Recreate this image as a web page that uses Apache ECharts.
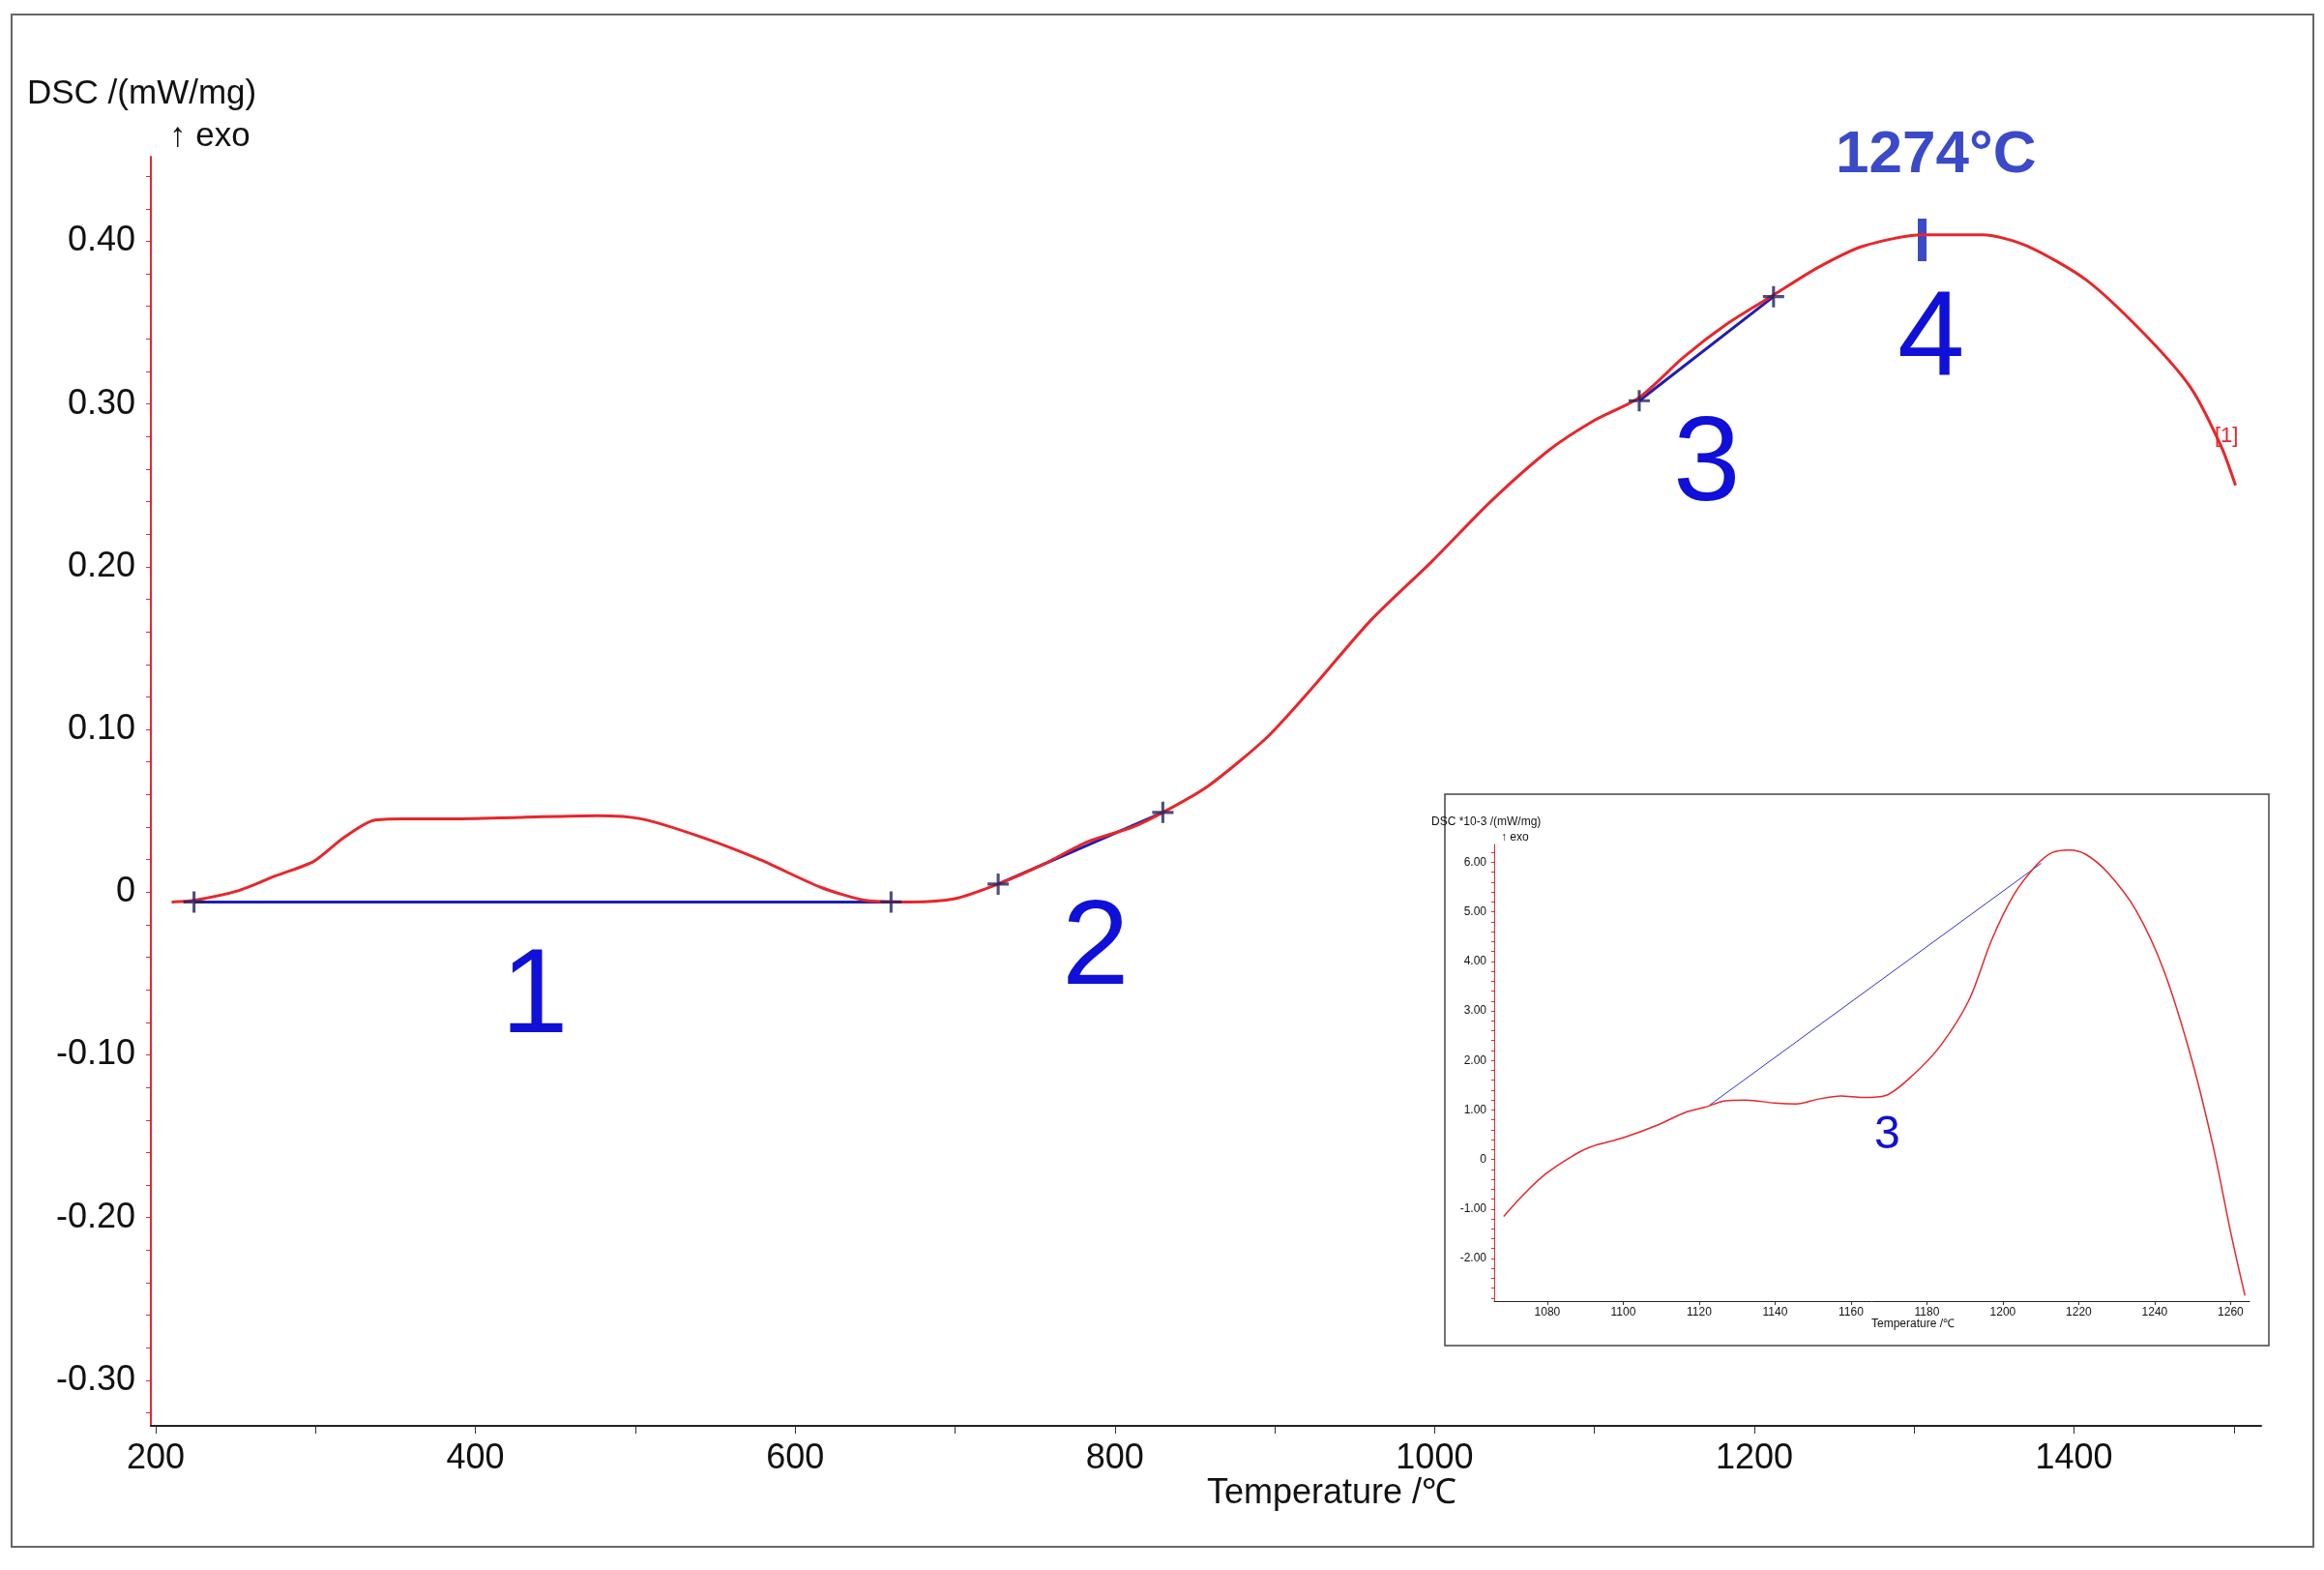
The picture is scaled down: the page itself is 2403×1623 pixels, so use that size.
<!DOCTYPE html>
<html>
<head>
<meta charset="utf-8">
<script src="https://cdn.jsdelivr.net/npm/echarts@6/dist/echarts.min.js"></script>
<style>html,body{margin:0;padding:0;background:#fff}#main{width:2403px;height:1623px}</style>
</head>
<body>
<div id="main"></div>
<script>
// main DSC curve
var temp = [210,224,252,275,299,317,336,355,383,429,476,504,541,578,616,644,672,700,727,755,783,811,830,858,895,923,960,998,1035,1072,1100,1128,1156,1184,1212,1240,1268,1305,1343,1371,1408,1445,1473,1492,1501];
var dsc = [-0.006,-0.005,0.001,0.010,0.019,0.033,0.044,0.045,0.045,0.046,0.047,0.045,0.034,0.020,0.003,-0.005,-0.006,-0.004,0.005,0.017,0.031,0.040,0.049,0.065,0.095,0.125,0.167,0.203,0.240,0.272,0.290,0.304,0.329,0.350,0.367,0.384,0.397,0.404,0.404,0.397,0.376,0.342,0.310,0.274,0.250];
// baselines / tangents
var base1 = [[224,-0.006],[660,-0.006]];
var base2 = [[727,0.005],[830,0.049]];
var base3 = [[1128,0.302],[1212,0.366]];
var crosses = [[224,-0.006],[660,-0.006],[727,0.005],[830,0.049],[1128,0.302],[1212,0.366]];
// inset curve (DSC *10^-3)
var insetT = [1068.5,1073.7,1079.6,1086.2,1091.3,1100.1,1108.9,1116.3,1121.4,1126.5,1132.4,1139.8,1145.6,1151.5,1157.3,1163.2,1169.1,1176.4,1183.7,1191.1,1197.0,1202.8,1208.7,1213.1,1217.5,1221.9,1227.8,1235.1,1242.4,1249.8,1255.6,1260.2,1263.8];
var insetV = [-1.15,-0.71,-0.29,0.05,0.25,0.44,0.69,0.95,1.05,1.18,1.20,1.14,1.12,1.22,1.28,1.25,1.29,1.71,2.31,3.22,4.42,5.33,5.93,6.20,6.25,6.16,5.78,5.03,3.82,2.01,0.20,-1.53,-2.75];
var insetBase = [[1122.8,1.10],[1210.1,5.98]];

var xLabels = [200,400,600,800,1000,1200,1400];
var xTicks = [200,300,400,500,600,700,800,900,1000,1100,1200,1300,1400,1500];
var yLabels = [-0.3,-0.2,-0.1,0,0.1,0.2,0.3,0.4];
var yTicks = [];
for (var i = -16; i <= 22; i++) yTicks.push(+(i*0.02).toFixed(2));
var insetXLabels = [1080,1100,1120,1140,1160,1180,1200,1220,1240,1260];
var insetYLabels = [-2,-1,0,1,2,3,4,5,6];
var insetYTicks = [];
for (var j = -14; j <= 31; j++) insetYTicks.push(+(j*0.2).toFixed(1));

function pairs(a, b) { return a.map(function (v, k) { return [v, b[k]]; }); }

var chart = echarts.init(document.getElementById('main'));
var font = 'Liberation Sans, Arial, sans-serif';
var red = '#e8262a', blue = '#1f1fb0', lab = '#1010d8';

var option = {
  animation: false,
  backgroundColor: '#fff',
  grid: [
    {left: 156, right: 65, top: 162, bottom: 149},
    {left: 1545, right: 77, top: 873, bottom: 278}
  ],
  xAxis: [{
    type: 'value', gridIndex: 0, min: 197, max: 1517,
    axisLine: {onZero: false, lineStyle: {color: '#222', width: 2}},
    axisTick: {show: true, length: 8, customValues: xTicks, lineStyle: {color: '#333'}},
    axisLabel: {customValues: xLabels, fontSize: 36, color: '#111', fontFamily: font, margin: 16,
      formatter: function (v) { return String(v); }},
    splitLine: {show: false}
  }, {
    type: 'value', gridIndex: 1, min: 1066, max: 1265,
    axisLine: {onZero: false, lineStyle: {color: '#222', width: 1}},
    axisTick: {show: true, length: 4, customValues: insetXLabels, lineStyle: {color: '#333'}},
    axisLabel: {customValues: insetXLabels, fontSize: 12, color: '#111', fontFamily: font, margin: 6,
      formatter: function (v) { return String(v); }},
    splitLine: {show: false}
  }],
  yAxis: [{
    type: 'value', gridIndex: 0, min: -0.328, max: 0.452,
    axisLine: {show: true, onZero: false, lineStyle: {color: red, width: 2}},
    axisTick: {show: true, length: 5, customValues: yTicks, lineStyle: {color: red}},
    axisLabel: {customValues: yLabels, fontSize: 36, color: '#111', fontFamily: font, margin: 16,
      formatter: function (v) { return Math.abs(v) < 1e-9 ? '0' : v.toFixed(2); }},
    splitLine: {show: false}
  }, {
    type: 'value', gridIndex: 1, min: -2.86, max: 6.36,
    axisLine: {show: true, onZero: false, lineStyle: {color: red, width: 1}},
    axisTick: {show: true, length: 3, customValues: insetYTicks, lineStyle: {color: red}},
    axisLabel: {customValues: insetYLabels, fontSize: 12, color: '#111', fontFamily: font, margin: 8,
      formatter: function (v) { return v === 0 ? '0' : v.toFixed(2); }},
    splitLine: {show: false}
  }],
  series: [
    {type: 'line', data: base1, symbol: 'none', lineStyle: {color: blue, width: 3}},
    {type: 'line', data: base2, symbol: 'none', lineStyle: {color: blue, width: 3}},
    {type: 'line', data: base3, symbol: 'none', lineStyle: {color: blue, width: 3}},
    {type: 'line', data: pairs(temp, dsc), smooth: 0.25, symbol: 'none', lineStyle: {color: red, width: 3}},
    {type: 'scatter', data: crosses, symbol: 'path://M4.3,0H5.7V4.3H10V5.7H5.7V10H4.3V5.7H0V4.3H4.3Z', symbolSize: 22, itemStyle: {color: '#202060'}, z: 5},
    {type: 'line', xAxisIndex: 1, yAxisIndex: 1, data: insetBase, symbol: 'none', lineStyle: {color: '#3030d0', width: 1}},
    {type: 'line', xAxisIndex: 1, yAxisIndex: 1, data: pairs(insetT, insetV), smooth: 0.3, symbol: 'none', lineStyle: {color: red, width: 1.5}}
  ],
  graphic: [
    {type: 'rect', shape: {x: 12, y: 15, width: 2380, height: 1584}, style: {fill: 'none', stroke: '#666', lineWidth: 2}, z: -1},
    {type: 'rect', shape: {x: 1494, y: 821, width: 852, height: 570}, style: {fill: 'none', stroke: '#444', lineWidth: 1.5}, z: -1},
    {type: 'text', left: 28, top: 80, style: {text: 'DSC /(mW/mg)', font: '35px ' + font, fill: '#111'}},
    {type: 'text', left: 175, top: 124, style: {text: '↑ exo', font: '35px ' + font, fill: '#111'}},
    {type: 'text', left: 1248, top: 1526, style: {text: 'Temperature /℃', font: '36px ' + font, fill: '#111'}},
    {type: 'text', left: 1898, top: 130, style: {text: '1274°C', font: 'bold 62px ' + font, fill: '#3a4ac8'}},
    {type: 'rect', shape: {x: 1983, y: 226, width: 9, height: 44}, style: {fill: '#3a4ac8'}},
    {type: 'text', left: 518, top: 970, style: {text: '1', font: '125px ' + font, fill: lab}},
    {type: 'text', left: 1098, top: 920, style: {text: '2', font: '125px ' + font, fill: lab}},
    {type: 'text', left: 1730, top: 420, style: {text: '3', font: '125px ' + font, fill: lab}},
    {type: 'text', left: 1962, top: 290, style: {text: '4', font: '125px ' + font, fill: lab}},
    {type: 'text', left: 2290, top: 440, style: {text: '[1]', font: '22px ' + font, fill: red}},
    {type: 'text', left: 1480, top: 844, style: {text: 'DSC *10-3 /(mW/mg)', font: '12px ' + font, fill: '#111'}},
    {type: 'text', left: 1552, top: 860, style: {text: '↑ exo', font: '12px ' + font, fill: '#111'}},
    {type: 'text', left: 1935, top: 1363, style: {text: 'Temperature /℃', font: '12px ' + font, fill: '#111'}},
    {type: 'text', left: 1938, top: 1150, style: {text: '3', font: '48px ' + font, fill: lab}}
  ]
};
chart.setOption(option);
</script>
</body>
</html>
